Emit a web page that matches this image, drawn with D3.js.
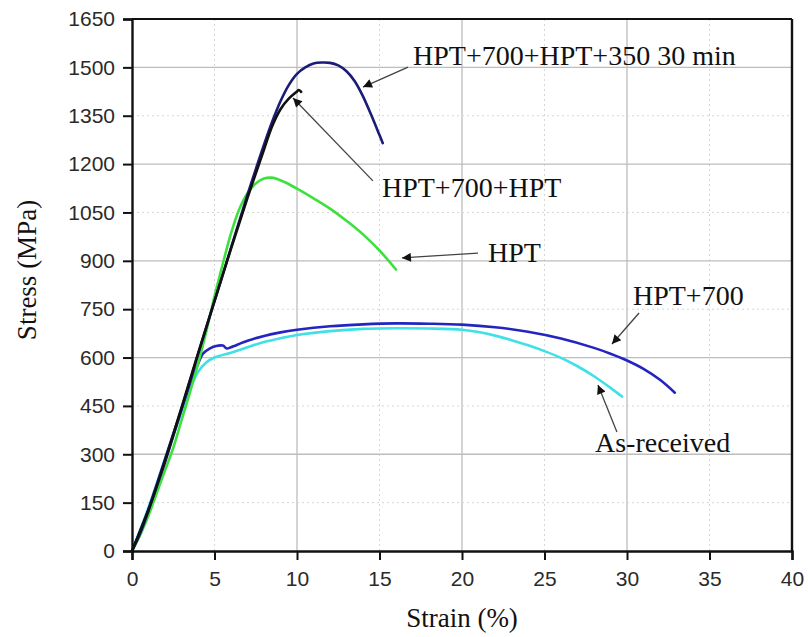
<!DOCTYPE html>
<html>
<head>
<meta charset="utf-8">
<script src="https://cdn.jsdelivr.net/npm/d3@7"></script>
<style>
    body { margin: 0; background: #fff; }
    .tick text { font-family: "Liberation Sans", Arial, sans-serif; font-size: 21px; fill: #2a2a2a; }
    .title { font-family: "Liberation Serif", "Times New Roman", serif; font-size: 27px; fill: #111; }
    .note { font-family: "Liberation Serif", "Times New Roman", serif; font-size: 28px; fill: #111; }
</style>
</head>
<body>
<svg id="chart" width="808" height="637"></svg>
<script>
// strain (%) and stress (MPa) for each sample
const asReceivedX = [0, 1, 2, 3, 3.5, 4, 4.5, 5, 6, 7, 8, 9, 10, 12, 14, 16, 18, 20, 21, 22, 23, 24, 25, 26, 27, 28, 29, 29.7];
const asReceivedY = [0, 135, 285, 430, 500, 555, 585, 600, 615, 632, 648, 660, 670, 682, 689, 691, 690, 686, 679, 668, 654, 638, 620, 599, 573, 542, 506, 479];

const hpt700X = [0, 1, 2, 3, 3.5, 4, 4.3, 4.7, 5.1, 5.5, 5.75, 6, 7, 8, 9, 10, 12, 14, 16, 18, 20, 22, 24, 26, 28, 29, 30, 31, 32, 32.9];
const hpt700Y = [0, 130, 285, 440, 515, 580, 612, 628, 636, 637, 628, 632, 652, 667, 678, 686, 697, 703, 706, 705, 702, 694, 680, 659, 630, 612, 591, 565, 531, 491];

const hptX = [0, 0.5, 1, 1.5, 2, 2.5, 3, 3.5, 4, 4.5, 5, 5.5, 6, 6.5, 7, 7.5, 8, 8.4, 8.8, 9.3, 10, 11, 12, 13, 14, 15, 16];
const hptY = [0, 50, 110, 180, 250, 320, 405, 490, 580, 680, 790, 890, 985, 1060, 1110, 1140, 1155, 1158, 1154, 1143, 1124, 1094, 1062, 1024, 982, 932, 873];

const hpt350X = [0, 0.5, 1, 1.5, 2, 3, 4, 5, 6, 7, 8, 8.5, 9, 9.5, 10, 10.5, 11, 11.5, 12, 12.5, 13, 13.5, 14, 14.5, 15, 15.2];
const hpt350Y = [0, 55, 125, 200, 275, 440, 610, 775, 940, 1105, 1260, 1332, 1395, 1445, 1480, 1500, 1512, 1515, 1514, 1506, 1488, 1457, 1410, 1352, 1290, 1265];

const hpt700hptX = [0, 1, 2, 3, 4, 5, 6, 7, 8, 8.5, 9, 9.5, 10, 10.1, 10.25];
const hpt700hptY = [0, 128, 280, 445, 612, 775, 938, 1095, 1245, 1318, 1370, 1403, 1425, 1430, 1424];

const seriesNames = ["As-received", "HPT+700", "HPT", "HPT+700+HPT+350 30 min", "HPT+700+HPT"];
const seriesColors = ["#3fe0e6", "#2424c0", "#3ee03e", "#1b1b78", "#111111"];

const xTicks = [0, 5, 10, 15, 20, 25, 30, 35, 40];
const yTicks = [0, 150, 300, 450, 600, 750, 900, 1050, 1200, 1350, 1500, 1650];

// annotation: text anchor (strain, stress), arrow tail and arrow tip
const noteTexts = ["HPT+700+HPT+350 30 min", "HPT+700+HPT", "HPT", "HPT+700", "As-received"];
const noteAt = [[17.03, 1508], [15.15, 1098], [21.58, 896], [30.36, 763], [28.06, 307]];
const arrowFrom = [[16.73, 1501], [14.6, 1148], [20.97, 924], [30.73, 738], [29.39, 369]];
const arrowTo = [[14.0, 1439], [9.76, 1405], [16.36, 909], [29.09, 642], [28.24, 515]];

const plotLeft = 132, plotRight = 792, plotTop = 19, plotBottom = 551;

const svg = d3.select("#chart");

const xScale = d3.scaleLinear().domain([0, 40]).range([plotLeft, plotRight]);
const yScale = d3.scaleLinear().domain([0, 1650]).range([plotBottom, plotTop]);

// grid: solid on every second tick, dotted between
svg.append("g")
    .selectAll("line")
    .data(xTicks.filter(function (d) { return d > 0 && d < 40; }))
    .join("line")
    .attr("x1", function (d) { return xScale(d); })
    .attr("x2", function (d) { return xScale(d); })
    .attr("y1", plotTop)
    .attr("y2", plotBottom)
    .attr("stroke", function (d) { return d % 10 == 0 ? "#bdbdbd" : "#d6d6d6"; })
    .attr("stroke-width", function (d) { return d % 10 == 0 ? 1.3 : 1; })
    .attr("stroke-dasharray", function (d) { return d % 10 == 0 ? null : "2,3"; });

svg.append("g")
    .selectAll("line")
    .data(yTicks.filter(function (d) { return d > 0 && d < 1650; }))
    .join("line")
    .attr("x1", plotLeft)
    .attr("x2", plotRight)
    .attr("y1", function (d) { return yScale(d); })
    .attr("y2", function (d) { return yScale(d); })
    .attr("stroke", function (d) { return d % 300 == 0 ? "#bdbdbd" : "#d6d6d6"; })
    .attr("stroke-width", function (d) { return d % 300 == 0 ? 1.3 : 1; })
    .attr("stroke-dasharray", function (d) { return d % 300 == 0 ? null : "2,3"; });

// curves
const curves = [
    [asReceivedX, asReceivedY],
    [hpt700X, hpt700Y],
    [hptX, hptY],
    [hpt350X, hpt350Y],
    [hpt700hptX, hpt700hptY]
];

const line = d3.line()
    .x(function (d) { return xScale(d[0]); })
    .y(function (d) { return yScale(d[1]); })
    .curve(d3.curveCatmullRom.alpha(0.5));

svg.append("g")
    .selectAll("path")
    .data(curves)
    .join("path")
    .attr("fill", "none")
    .attr("stroke", function (d, i) { return seriesColors[i]; })
    .attr("stroke-width", 2.6)
    .attr("stroke-linecap", "round")
    .attr("d", function (d) { return line(d[0].map(function (x, j) { return [x, d[1][j]]; })); });

// frame (top and right)
svg.append("line")
    .attr("x1", plotLeft).attr("x2", plotRight).attr("y1", plotTop).attr("y2", plotTop)
    .attr("stroke", "#111").attr("stroke-width", 2);
svg.append("line")
    .attr("x1", plotRight).attr("x2", plotRight).attr("y1", plotTop).attr("y2", plotBottom)
    .attr("stroke", "#111").attr("stroke-width", 2.4);

// axes
const xAxis = svg.append("g")
    .attr("transform", `translate(0, ${plotBottom})`)
    .call(d3.axisBottom(xScale).tickValues(xTicks).tickFormat(d3.format("d")).tickSize(9).tickPadding(11));
const yAxis = svg.append("g")
    .attr("transform", `translate(${plotLeft}, 0)`)
    .call(d3.axisLeft(yScale).tickValues(yTicks).tickFormat(d3.format("d")).tickSize(9).tickPadding(8));

[xAxis, yAxis].forEach(function (a) {
    a.select(".domain").attr("stroke", "#111").attr("stroke-width", 2.4);
    a.selectAll(".tick line").attr("stroke", "#111").attr("stroke-width", 2);
});

// axis titles
svg.append("text")
    .attr("class", "title")
    .attr("x", (plotLeft + plotRight) / 2)
    .attr("y", 627)
    .attr("text-anchor", "middle")
    .text("Strain (%)");

svg.append("text")
    .attr("class", "title")
    .attr("transform", "translate(36, 270) rotate(-90)")
    .attr("text-anchor", "middle")
    .text("Stress (MPa)");

// annotations
svg.append("defs").append("marker")
    .attr("id", "head")
    .attr("viewBox", "0 0 10 10")
    .attr("refX", 10)
    .attr("refY", 5)
    .attr("markerWidth", 14)
    .attr("markerHeight", 9)
    .attr("markerUnits", "userSpaceOnUse")
    .attr("orient", "auto")
    .append("path")
    .attr("d", "M0,0 L10,5 L0,10 Z")
    .attr("fill", "#111");

svg.append("g")
    .selectAll("line")
    .data(noteTexts)
    .join("line")
    .attr("x1", function (d, i) { return xScale(arrowFrom[i][0]); })
    .attr("y1", function (d, i) { return yScale(arrowFrom[i][1]); })
    .attr("x2", function (d, i) { return xScale(arrowTo[i][0]); })
    .attr("y2", function (d, i) { return yScale(arrowTo[i][1]); })
    .attr("stroke", "#444")
    .attr("stroke-width", 1.3)
    .attr("marker-end", "url(#head)");

svg.append("g")
    .selectAll("text")
    .data(noteTexts)
    .join("text")
    .attr("class", "note")
    .attr("x", function (d, i) { return xScale(noteAt[i][0]); })
    .attr("y", function (d, i) { return yScale(noteAt[i][1]); })
    .text(function (d) { return d; });
</script>
</body>
</html>
